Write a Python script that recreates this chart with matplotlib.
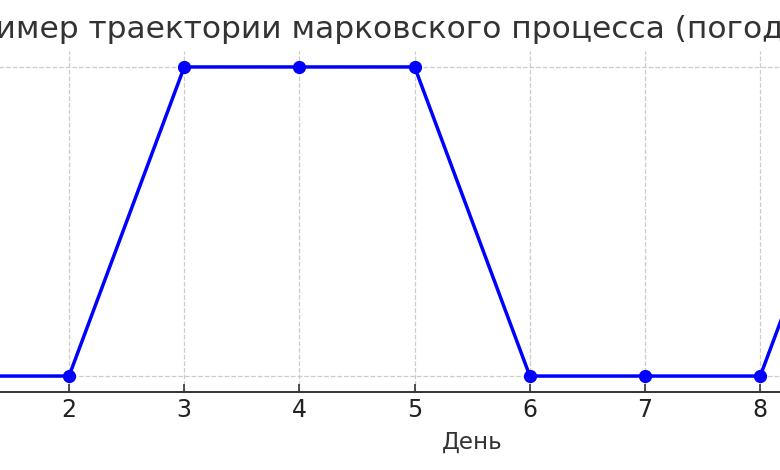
import matplotlib
matplotlib.use("Agg")
import matplotlib.pyplot as plt

days = [1, 2, 3, 4, 5, 6, 7, 8, 9, 10]
states = [0, 0, 1, 1, 1, 0, 0, 0, 1, 1]
title = "Пример траектории марковского процесса (погода)"
xlabel = "День"

fig = plt.figure(figsize=(7.8, 4.7), dpi=100)
ax = fig.add_axes([-98.0 / 780, (470 - 391.5) / 470, 1140.5 / 780, 340 / 470])
ax.plot(days, states, color="#0000ff", linewidth=2.5, marker="o", markersize=8.5)
ax.set_xlim(0.55, 10.45)
ax.set_ylim(-0.05, 1.05)
ax.set_xticks(days)
ax.set_yticks([0, 1])
ax.grid(True, linestyle="--", color="#cccccc", linewidth=0.9)
for s in ["top", "right", "left"]:
    ax.spines[s].set_visible(False)
ax.spines["bottom"].set_color("#333333")
ax.spines["bottom"].set_linewidth(1.4)
ax.tick_params(axis="x", colors="#333333", labelcolor="#222222", labelsize=17,
               length=6, width=1.2, direction="in", pad=5)
ax.tick_params(axis="y", length=0, labelleft=False)
fig.text(0.5 - 7 / 780, 1 - 38 / 470, title, fontsize=22.5, color="#333333",
         ha="center", va="baseline")
ax.set_xlabel(xlabel, fontsize=16.5, color="#333333", labelpad=6)
fig.savefig("out.png", dpi=100)
